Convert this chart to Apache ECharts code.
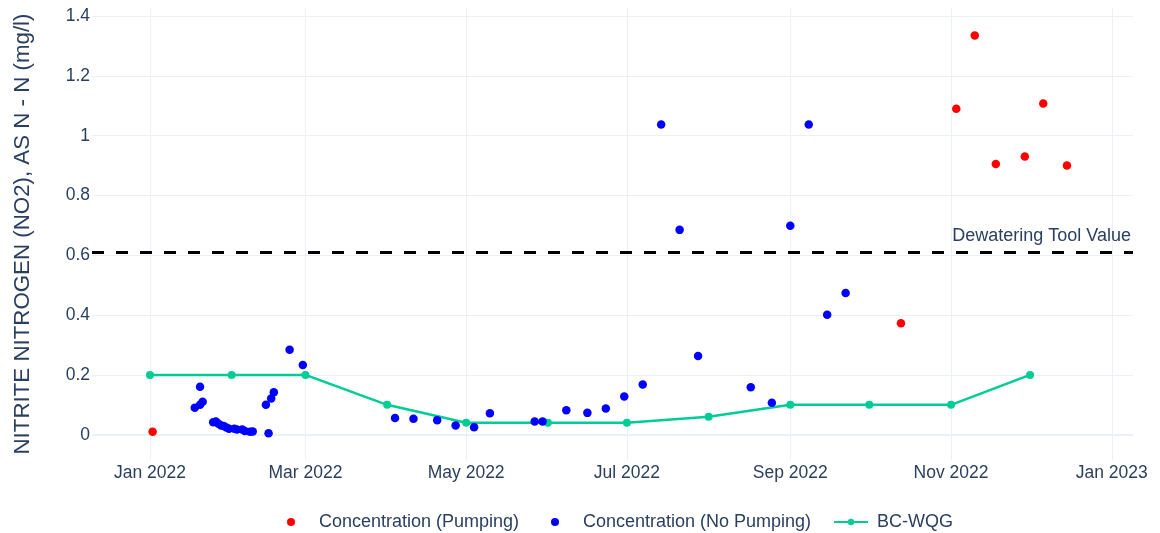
<!DOCTYPE html>
<html>
<head>
<meta charset="utf-8">
<script src="https://cdn.jsdelivr.net/npm/echarts@6/dist/echarts.min.js"></script>
<style>
html,body{margin:0;padding:0;background:#fff;}
#chart{width:1160px;height:533px;}
</style>
</head>
<body>
<div id="chart"></div>
<script>
// ---- data ----
const pumpingDates = ['2022-01-02','2022-10-13','2022-11-03','2022-11-10','2022-11-18','2022-11-29','2022-12-06','2022-12-15'];
const pumpingValues = [0.01, 0.373, 1.09, 1.335, 0.905, 0.93, 1.108, 0.9];

const noPumpDates = ['2022-01-18','2022-01-20','2022-01-20','2022-01-21',
  '2022-01-25','2022-01-26','2022-01-27','2022-01-28','2022-01-29','2022-01-30','2022-01-31',
  '2022-02-02','2022-02-03','2022-02-05','2022-02-06','2022-02-08','2022-02-09',
  '2022-02-14','2022-02-15','2022-02-16','2022-02-17','2022-02-23','2022-02-28',
  '2022-04-04','2022-04-11','2022-04-20','2022-04-27','2022-05-04','2022-05-10',
  '2022-05-27','2022-05-30','2022-06-08','2022-06-16','2022-06-23','2022-06-30',
  '2022-07-07','2022-07-14','2022-07-21','2022-07-28','2022-08-17','2022-08-25',
  '2022-09-01','2022-09-08','2022-09-15','2022-09-22'];
const noPumpValues = [0.09, 0.10, 0.16, 0.11,
  0.042, 0.044, 0.037, 0.031, 0.029, 0.024, 0.02,
  0.02, 0.017, 0.017, 0.012, 0.01, 0.011,
  0.10, 0.005, 0.121, 0.142, 0.284, 0.233,
  0.056, 0.053, 0.048, 0.031, 0.025, 0.072,
  0.044, 0.044, 0.082, 0.073, 0.088, 0.128,
  0.168, 1.037, 0.685, 0.263, 0.159, 0.107,
  0.699, 1.037, 0.401, 0.474];

const wqgDates = ['2022-01-01','2022-02-01','2022-03-01','2022-04-01','2022-05-01','2022-06-01',
  '2022-07-01','2022-08-01','2022-09-01','2022-10-01','2022-11-01','2022-12-01'];
const wqgValues = [0.2, 0.2, 0.2, 0.1, 0.04, 0.04, 0.04, 0.06, 0.1, 0.1, 0.1, 0.2];

const dewateringValue = 0.61;

const xTickDates = ['2022-01-01','2022-03-01','2022-05-01','2022-07-01','2022-09-01','2022-11-01','2023-01-01'];
const yTickValues = [0, 0.2, 0.4, 0.6, 0.8, 1, 1.2, 1.4];
const monthNames = ['Jan','Feb','Mar','Apr','May','Jun','Jul','Aug','Sep','Oct','Nov','Dec'];

// ---- helpers ----
const ts = d => { const p = d.split('-').map(Number); return Date.UTC(p[0], p[1]-1, p[2]); };
const pair = (ds, vs) => ds.map((d,i) => [ts(d), vs[i]]);
const DAY = 86400000;
const JAN1 = ts('2022-01-01');
const xTicks = xTickDates.map(ts);
const FONT = "'Liberation Sans', Arial, sans-serif";
const TXT = '#2a3f5f';
const GRIDC = '#EBF0F8';

const chart = echarts.init(document.getElementById('chart'), null, {renderer: 'canvas'});
chart.setOption({
  animation: false,
  backgroundColor: '#fff',
  textStyle: {fontFamily: FONT},
  grid: {left: 92, right: 27, top: 8, bottom: 73, containLabel: false},
  xAxis: {
    type: 'value',
    min: JAN1 - 22.0 * DAY,
    max: JAN1 + 373.06 * DAY,
    axisLine: {show: false},
    axisTick: {show: false},
    splitLine: {show: false},
    axisLabel: {
      customValues: xTicks,
      margin: 4,
      fontSize: 17.5,
      color: TXT,
      fontFamily: FONT,
      formatter: v => { const d = new Date(v); return monthNames[d.getUTCMonth()] + ' ' + d.getUTCFullYear(); }
    }
  },
  yAxis: {
    type: 'value',
    min: -0.0846,
    max: 1.427,
    axisLine: {show: false},
    axisTick: {show: false},
    splitLine: {show: false},
    name: 'NITRITE NITROGEN (NO2), AS N - N (mg/l)',
    nameLocation: 'middle',
    nameRotate: 90,
    nameGap: 58,
    nameTextStyle: {fontSize: 22.3, color: TXT, fontFamily: FONT},
    axisLabel: {
      customValues: yTickValues,
      margin: 2,
      fontSize: 17.5,
      color: TXT,
      fontFamily: FONT,
      formatter: v => String(+(+v).toFixed(2))
    }
  },
  legend: [
    {data: ['Concentration (Pumping)'], left: 287, top: 513, padding: 0, itemWidth: 34, itemHeight: 8,
     textStyle: {fontSize: 18, color: TXT, fontFamily: FONT, padding: [0,0,0,6]}},
    {data: ['Concentration (No Pumping)'], left: 551, top: 513, padding: 0, itemWidth: 34, itemHeight: 8,
     textStyle: {fontSize: 18, color: TXT, fontFamily: FONT, padding: [0,0,0,6]}},
    {data: ['BC-WQG'], left: 833, top: 513, padding: 0, itemWidth: 34, itemHeight: 8,
     textStyle: {fontSize: 18, color: TXT, fontFamily: FONT, padding: [0,0,0,4]}}
  ],
  series: [
    {
      name: '_grid', type: 'line', data: [], silent: true, z: 0,
      markLine: {
        silent: true, symbol: 'none', z: 0, animation: false,
        label: {show: false},
        lineStyle: {color: GRIDC, width: 1, type: 'solid'},
        emphasis: {disabled: true},
        data: xTicks.map(t => ({xAxis: t}))
          .concat(yTickValues.map(v => ({yAxis: v, lineStyle: {color: GRIDC, width: v === 0 ? 2 : 1, type: 'solid'}})))
      }
    },
    {
      name: '_dewatering', type: 'line', data: [], silent: true, z: 1,
      markLine: {
        silent: true, symbol: 'none', z: 1, animation: false,
        lineStyle: {color: '#000', width: 3, type: [12, 12]},
        emphasis: {disabled: true},
        label: {show: true, position: 'insideEndTop', formatter: 'Dewatering Tool Value',
                fontSize: 18, color: TXT, fontFamily: FONT, distance: [2, 7]},
        data: [{yAxis: dewateringValue}]
      }
    },
    {
      name: 'BC-WQG', type: 'line', z: 3,
      data: pair(wqgDates, wqgValues),
      color: '#00CC96',
      lineStyle: {color: '#00CC96', width: 2.5},
      itemStyle: {color: '#00CC96'},
      symbol: 'circle', symbolSize: 8, showSymbol: true
    },
    {
      name: 'Concentration (No Pumping)', type: 'scatter', z: 4,
      data: pair(noPumpDates, noPumpValues),
      symbolSize: 8.5,
      itemStyle: {color: '#0000ff', opacity: 1}
    },
    {
      name: 'Concentration (Pumping)', type: 'scatter', z: 4,
      data: pair(pumpingDates, pumpingValues),
      symbolSize: 8.5,
      itemStyle: {color: '#ff0000', opacity: 1}
    }
  ]
});
</script>
</body>
</html>
